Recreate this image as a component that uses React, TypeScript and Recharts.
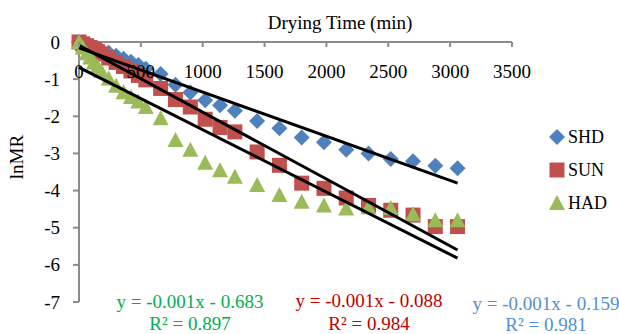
import React from 'react';
import { ScatterChart, Scatter, XAxis, YAxis, Legend } from 'recharts';

// ---- data ----
const times = [0, 30, 60, 90, 120, 150, 180, 240, 300, 360, 420, 480, 540, 660, 780, 900, 1020, 1140, 1260, 1440, 1620, 1800, 1980, 2160, 2340, 2520, 2700, 2880, 3060];
const shdValues = [0, -0.03, -0.07, -0.1, -0.14, -0.18, -0.22, -0.29, -0.37, -0.45, -0.53, -0.62, -0.72, -0.86, -1.15, -1.36, -1.57, -1.7, -1.85, -2.13, -2.32, -2.57, -2.7, -2.9, -3.0, -3.15, -3.21, -3.33, -3.4];
const sunValues = [0, -0.05, -0.1, -0.15, -0.2, -0.26, -0.32, -0.43, -0.55, -0.66, -0.78, -0.9, -1.02, -1.25, -1.55, -1.75, -2.08, -2.3, -2.42, -2.96, -3.32, -3.8, -3.94, -4.2, -4.4, -4.53, -4.66, -4.97, -4.97];
const hadValues = [0, -0.15, -0.3, -0.42, -0.55, -0.66, -0.78, -0.98, -1.18, -1.35, -1.48, -1.6, -1.75, -2.05, -2.64, -2.9, -3.25, -3.45, -3.63, -3.85, -4.12, -4.3, -4.4, -4.48, -4.45, -4.47, -4.64, -4.8, -4.8];

const trendX = [0, 3060];
const shdTrend = [-0.159, -3.8];
const sunTrend = [-0.088, -5.6];
const hadTrend = [-0.683, -5.82];

const xTicks = [0, 500, 1000, 1500, 2000, 2500, 3000, 3500];
const yTicks = [0, -1, -2, -3, -4, -5, -6, -7];

const seriesNames = ['SHD', 'SUN', 'HAD'];
const seriesColors = ['#4F81BD', '#C0504D', '#9BBB59'];

const equationLines = ['y = -0.001x - 0.683', 'y = -0.001x - 0.088', 'y = -0.001x - 0.159'];
const r2Lines = ['R² = 0.897', 'R² = 0.984', 'R² = 0.981'];
const equationColors = ['#00B050', '#C00000', '#558ED5'];

const FONT = "'Liberation Serif', 'Times New Roman', serif";
const AXIS_GRAY = '#8C8C8C';

const toPoints = (vals: number[]) => times.map((t, i) => ({ x: t, y: vals[i] }));
const toTrend = (vals: number[]) => trendX.map((t, i) => ({ x: t, y: vals[i] }));

const Diamond = (p: any) => {
  const { cx, cy } = p;
  const r = 8;
  return <polygon points={`${cx},${cy - r} ${cx + r},${cy} ${cx},${cy + r} ${cx - r},${cy}`} fill={seriesColors[0]} />;
};
const Square = (p: any) => {
  const { cx, cy } = p;
  return <rect x={cx - 7.5} y={cy - 7.5} width={15} height={15} fill={seriesColors[1]} />;
};
const Triangle = (p: any) => {
  const { cx, cy } = p;
  return <polygon points={`${cx},${cy - 8} ${cx + 8},${cy + 7} ${cx - 8},${cy + 7}`} fill={seriesColors[2]} />;
};
const NoShape = () => <g />;

const markerSvgs = [
  <polygon key="d" points="9,1 17,9 9,17 1,9" fill={seriesColors[0]} />,
  <rect key="s" x={1.5} y={1.5} width={15} height={15} fill={seriesColors[1]} />,
  <polygon key="t" points="9,1 17,16 1,16" fill={seriesColors[2]} />,
];

const XTick = (props: any) => {
  const { x, y, payload } = props;
  return (
    <g>
      <line x1={x} y1={y} x2={x} y2={y + 5} stroke={AXIS_GRAY} strokeWidth={2} />
      <text x={x} y={y + 36} textAnchor="middle" style={{ fontFamily: FONT, fontSize: 19 }} fill="#000">
        {payload.value}
      </text>
    </g>
  );
};

const YTick = (props: any) => {
  const { x, y, payload } = props;
  return (
    <text x={x} y={y + 6.5} textAnchor="end" style={{ fontFamily: FONT, fontSize: 19 }} fill="#000">
      {payload.value}
    </text>
  );
};

const XTitle = () => (
  <text x={340} y={29} textAnchor="middle" style={{ fontFamily: FONT, fontSize: 19 }} fill="#000">
    Drying Time (min)
  </text>
);

const YTitle = () => (
  <text x={23} y={157} transform="rotate(-90 23 157)" textAnchor="middle" style={{ fontFamily: FONT, fontSize: 19 }} fill="#000">
    lnMR
  </text>
);

const LegendContent = () => (
  <div style={{ fontFamily: FONT, fontSize: 18, color: '#000' }}>
    {seriesNames.map((n, i) => (
      <div key={n} style={{ display: 'flex', alignItems: 'center', height: 33 }}>
        <svg width={18} height={18} style={{ display: 'block' }}>{markerSvgs[i]}</svg>
        <span style={{ marginLeft: 2, lineHeight: '18px' }}>{n}</span>
      </div>
    ))}
  </div>
);

const eqX = [190, 369, 546];
const eqY1 = [308, 307, 310];
const eqY2 = [330, 330, 331];

export default function App() {
  return (
    <div style={{ position: 'absolute', left: 0, top: 0, width: 619, height: 334, background: '#fff' }}>
      <ScatterChart width={619} height={334} margin={{ top: 0, right: 107, bottom: 32, left: 0 }}>
        <XAxis
          type="number"
          dataKey="x"
          orientation="top"
          height={42}
          domain={[0, 3500]}
          ticks={xTicks}
          interval={0}
          tickSize={0}
          tickMargin={0}
          tickLine={false}
          axisLine={{ stroke: AXIS_GRAY, strokeWidth: 2 }}
          tick={<XTick />}
          label={{ content: <XTitle /> }}
        />
        <YAxis
          type="number"
          dataKey="y"
          width={79}
          domain={[-7, 0]}
          ticks={yTicks}
          interval={0}
          tickSize={6}
          tickMargin={13}
          tickLine={{ stroke: AXIS_GRAY, strokeWidth: 2 }}
          axisLine={{ stroke: AXIS_GRAY, strokeWidth: 2 }}
          tick={<YTick />}
          label={{ content: <YTitle /> }}
        />
        <Legend
          layout="vertical"
          align="center"
          verticalAlign="middle"
          content={<LegendContent />}
          wrapperStyle={{ left: 548, top: 120, width: 70, margin: 0 }}
        />
        <Scatter name="SHD" data={toPoints(shdValues)} shape={Diamond} fill={seriesColors[0]} isAnimationActive={false} />
        <Scatter name="SUN" data={toPoints(sunValues)} shape={Square} fill={seriesColors[1]} isAnimationActive={false} />
        <Scatter name="HAD" data={toPoints(hadValues)} shape={Triangle} fill={seriesColors[2]} isAnimationActive={false} />
        <Scatter name="SHD trend" data={toTrend(shdTrend)} shape={NoShape} line={{ stroke: '#000', strokeWidth: 3 }} legendType="none" isAnimationActive={false} />
        <Scatter name="SUN trend" data={toTrend(sunTrend)} shape={NoShape} line={{ stroke: '#000', strokeWidth: 3 }} legendType="none" isAnimationActive={false} />
        <Scatter name="HAD trend" data={toTrend(hadTrend)} shape={NoShape} line={{ stroke: '#000', strokeWidth: 3 }} legendType="none" isAnimationActive={false} />
      </ScatterChart>
      <svg width={619} height={334} style={{ position: 'absolute', left: 0, top: 0, pointerEvents: 'none' }}>
        {equationLines.map((t, i) => (
          <g key={t} style={{ fontFamily: FONT, fontSize: 19 }} fill={equationColors[i]} textAnchor="middle">
            <text x={eqX[i]} y={eqY1[i]}>{t}</text>
            <text x={eqX[i]} y={eqY2[i]}>{r2Lines[i]}</text>
          </g>
        ))}
      </svg>
    </div>
  );
}
